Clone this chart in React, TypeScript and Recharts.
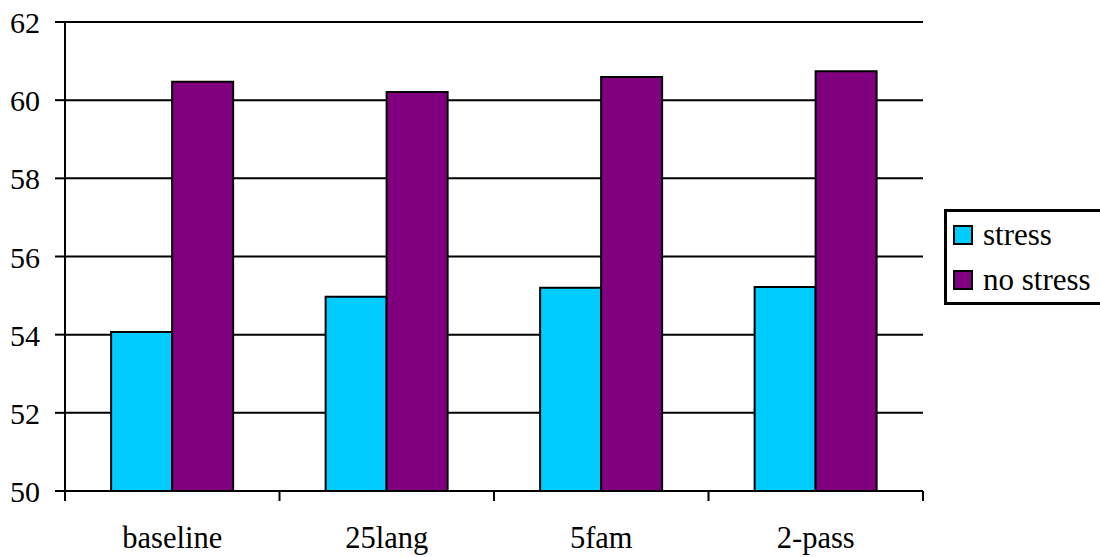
import { BarChart, Bar, XAxis, YAxis, CartesianGrid } from "recharts";

const categories = ["baseline", "25lang", "5fam", "2-pass"];
const stress = [54.07, 54.97, 55.2, 55.22];
const noStress = [60.47, 60.21, 60.59, 60.74];
const yTicks = [50, 52, 54, 56, 58, 60, 62];

const data = categories.map((name, i) => ({
  name,
  stress: stress[i],
  noStress: noStress[i],
}));

const FONT = "Liberation Serif";

function CategoryTick(props: any) {
  const { x, y, payload, index } = props;
  const half = payload?.offset ?? 0;
  return (
    <g>
      <line x1={x - half} x2={x - half} y1={y} y2={y + 10} stroke="#000" strokeWidth={2} />
      {index === categories.length - 1 && (
        <line x1={x + half} x2={x + half} y1={y} y2={y + 10} stroke="#000" strokeWidth={2} />
      )}
      <text x={x} y={y + 57} textAnchor="middle" fontSize={30.5} fontFamily={FONT} fill="#000">
        {payload.value}
      </text>
    </g>
  );
}

function ValueTick(props: any) {
  const { x, y, payload } = props;
  return (
    <text x={x - 1} y={y + 11} textAnchor="end" fontSize={30} fontFamily={FONT} fill="#000">
      {payload.value}
    </text>
  );
}

function LegendBox() {
  const items = [
    { label: "stress", color: "#00ccff" },
    { label: "no stress", color: "#800080" },
  ];
  return (
    <div
      style={{
        position: "absolute",
        left: 944,
        top: 209,
        width: 170,
        height: 90,
        border: "3px solid #000",
        background: "#fff",
        fontFamily: FONT,
        fontSize: 31,
      }}
    >
      {items.map((it, i) => (
        <div
          key={it.label}
          style={{ position: "absolute", left: 6, top: 9 + i * 45, display: "flex", alignItems: "center" }}
        >
          <span style={{ width: 16, height: 16, background: it.color, border: "2px solid #000", display: "inline-block" }} />
          <span style={{ marginLeft: 10, lineHeight: "28px", whiteSpace: "nowrap" }}>{it.label}</span>
        </div>
      ))}
    </div>
  );
}

export default function App() {
  return (
    <div style={{ position: "absolute", left: 0, top: 0, width: 1100, height: 557, overflow: "hidden", background: "#fff", fontFamily: FONT }}>
      <BarChart
        width={1100}
        height={557}
        data={data}
        margin={{ top: 22, right: 177, left: 0, bottom: 0 }}
        barCategoryGap="21.5%"
        barGap={0}
      >
        <CartesianGrid vertical={false} stroke="#000" strokeWidth={2} />
        <XAxis
          dataKey="name"
          height={66}
          tickSize={0}
          tickMargin={0}
          tickLine={false}
          axisLine={{ stroke: "#000", strokeWidth: 2 }}
          tick={<CategoryTick />}
          interval={0}
        />
        <YAxis
          domain={[50, 62]}
          ticks={yTicks}
          width={65}
          tickSize={10}
          tickMargin={14}
          allowDataOverflow
          axisLine={{ stroke: "#000", strokeWidth: 2 }}
          tickLine={{ stroke: "#000", strokeWidth: 2 }}
          tick={<ValueTick />}
        />
        <YAxis
          yAxisId="right"
          orientation="right"
          width={0}
          domain={[0, 1]}
          tick={false}
          tickLine={false}
          axisLine={{ stroke: "#000", strokeWidth: 2 }}
        />
        <Bar dataKey="stress" fill="#00ccff" stroke="#000" strokeWidth={2} isAnimationActive={false} />
        <Bar dataKey="noStress" fill="#800080" stroke="#000" strokeWidth={2} isAnimationActive={false} />
      </BarChart>
      <LegendBox />
    </div>
  );
}
